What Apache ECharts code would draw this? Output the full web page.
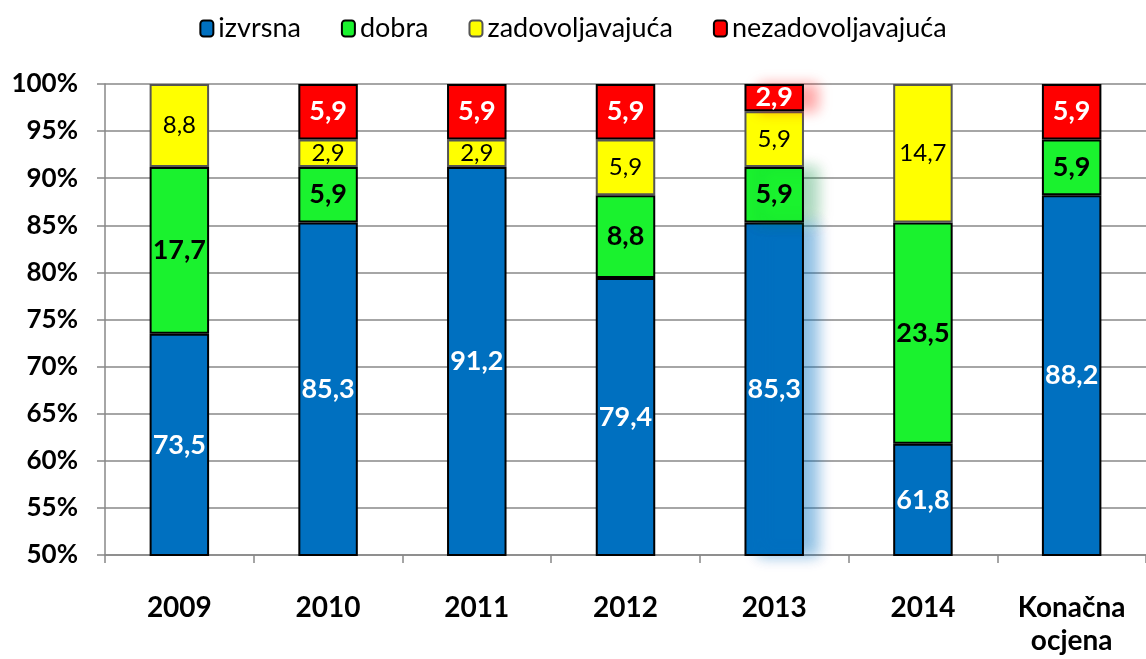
<!DOCTYPE html>
<html>
<head>
<meta charset="utf-8">
<script src="https://cdn.jsdelivr.net/npm/echarts@6/dist/echarts.min.js"></script>
<style>
  html, body { margin: 0; padding: 0; background: #fff; }
  #chart { width: 1146px; height: 659px; }
</style>
</head>
<body>
<div id="chart"></div>
<script>
var categories = ['2009', '2010', '2011', '2012', '2013', '2014', 'Konačna\nocjena'];
var izvrsna = [73.5, 85.3, 91.2, 79.4, 85.3, 61.8, 88.2];
var dobra = [17.7, 5.9, null, 8.8, 5.9, 23.5, 5.9];
var zadovoljavajuca = [8.8, 2.9, 2.9, 5.9, 5.9, 14.7, null];
var nezadovoljavajuca = [null, 5.9, 5.9, 5.9, 2.9, null, 5.9];

var font = 'Lato, "Open Sans", sans-serif';

function fmt(p) {
  return p.value == null ? '' : String(p.value).replace('.', ',');
}

// the 2013 column has a soft blurred shadow to its right in the original
function withShadow(data, shadowColor) {
  if (!shadowColor) return data;
  return data.map(function (v, i) {
    if (categories[i] !== '2013' || v == null) return v;
    return {
      value: v,
      itemStyle: { shadowColor: shadowColor, shadowBlur: 14, shadowOffsetX: 14, shadowOffsetY: 0 }
    };
  });
}

function makeSeries(name, data, color, border, labelColor, bold, shadow) {
  return {
    name: name,
    type: 'bar',
    stack: 'all',
    barWidth: '40%',
    data: withShadow(data, shadow),
    itemStyle: { color: color, borderColor: border, borderWidth: 2 },
    label: {
      show: true,
      position: 'inside',
      formatter: fmt,
      color: labelColor,
      fontFamily: font,
      fontSize: bold ? 27 : 24,
      fontWeight: bold ? 'bold' : 'normal'
    }
  };
}

var chart = echarts.init(document.getElementById('chart'));
chart.setOption({
  animation: false,
  legend: {
    top: 10,
    left: 'center',
    itemWidth: 13,
    itemHeight: 16,
    itemGap: 40,
    textStyle: { fontFamily: font, fontSize: 27, color: '#000' },
    data: ['izvrsna', 'dobra', 'zadovoljavajuća', 'nezadovoljavajuća']
  },
  grid: { left: 105, right: -9, top: 84, bottom: 104 },
  xAxis: {
    type: 'category',
    data: categories,
    axisLine: { lineStyle: { color: '#888', width: 1.5 } },
    axisTick: { show: true, length: 8, lineStyle: { color: '#888', width: 1.5 } },
    axisLabel: {
      margin: 36,
      color: '#000',
      fontFamily: font,
      fontSize: 28,
      fontWeight: 'bold',
      lineHeight: 33
    }
  },
  yAxis: {
    type: 'value',
    min: 50,
    max: 100,
    interval: 5,
    axisLine: { show: true, lineStyle: { color: '#888', width: 1.5 } },
    axisTick: { show: true, length: 8, lineStyle: { color: '#888', width: 1.5 } },
    splitLine: { lineStyle: { color: '#888', width: 1.5 } },
    axisLabel: {
      margin: 27,
      color: '#000',
      fontFamily: font,
      fontSize: 26,
      fontWeight: 'bold',
      formatter: '{value}%'
    }
  },
  series: [
    makeSeries('izvrsna', izvrsna, '#0070C0', '#000', '#fff', true, 'rgba(0,112,192,0.45)'),
    makeSeries('dobra', dobra, '#1AF22E', '#000', '#000', true, 'rgba(0,140,60,0.35)'),
    makeSeries('zadovoljavajuća', zadovoljavajuca, '#FFFF00', '#555', '#000', false, null),
    makeSeries('nezadovoljavajuća', nezadovoljavajuca, '#FF0000', '#000', '#fff', true, 'rgba(255,0,0,0.35)')
  ]
});
</script>
</body>
</html>
